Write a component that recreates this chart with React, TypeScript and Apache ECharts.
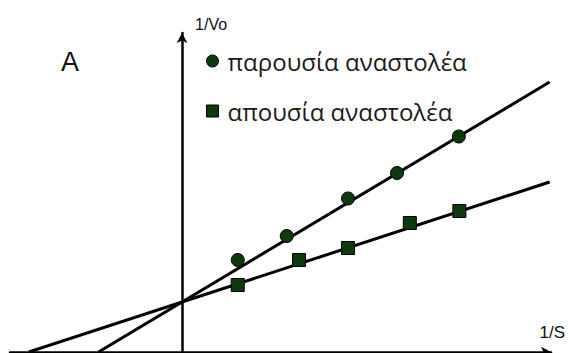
import React, { useEffect, useRef } from "react";
import * as echarts from "echarts";

// Lineweaver–Burk plot: 1/Vo against 1/S with and without inhibitor
const withInhibitorName = "παρουσία αναστολέα";
const withoutInhibitorName = "απουσία αναστολέα";

const withInhibitorPoints: [number, number][] = [
  [1.0, 1.84],
  [1.88, 2.32],
  [2.98, 3.07],
  [3.86, 3.58],
  [4.97, 4.31],
];

const withoutInhibitorPoints: [number, number][] = [
  [1.0, 1.34],
  [2.1, 1.84],
  [2.98, 2.08],
  [4.09, 2.58],
  [4.98, 2.82],
];

// fitted straight lines, from the 1/S intercept to the right edge
const withInhibitorFit: [number, number][] = [
  [-1.5, 0],
  [6.6, 5.4],
];
const withoutInhibitorFit: [number, number][] = [
  [-2.75, 0],
  [6.6, 3.4],
];

const markerColor = "#0c3a0e";

export default function App() {
  const ref = useRef<HTMLDivElement>(null);

  useEffect(() => {
    if (!ref.current) return;
    const chart = echarts.init(ref.current, undefined, { renderer: "svg" });
    const markerStyle = {
      color: markerColor,
      borderColor: "#000",
      borderWidth: 1,
      opacity: 1,
    };
    chart.setOption({
      animation: false,
      backgroundColor: "#ffffff",
      grid: { left: 10, right: 14, top: 33, bottom: 1 },
      xAxis: {
        type: "value",
        min: -173 / 56,
        max: 371 / 56,
        splitLine: { show: false },
        axisTick: { show: false },
        axisLabel: { show: false },
        axisLine: {
          onZero: true,
          symbol: ["none", "arrow"],
          symbolSize: [8, 10],
          lineStyle: { color: "#000", width: 2.5 },
        },
        name: "1/S",
        nameLocation: "end",
        nameGap: 14,
        nameTextStyle: {
          fontFamily: "Liberation Sans",
          fontSize: 17,
          color: "#111",
          align: "right",
          verticalAlign: "bottom",
          padding: [0, 0, 11, 0],
        },
      },
      yAxis: {
        type: "value",
        min: 0,
        max: 319 / 50,
        splitLine: { show: false },
        axisTick: { show: false },
        axisLabel: { show: false },
        axisLine: {
          onZero: true,
          symbol: ["none", "arrow"],
          symbolSize: [8, 10],
          lineStyle: { color: "#000", width: 2.5 },
        },
        name: "1/Vo",
        nameLocation: "end",
        nameGap: 1,
        nameTextStyle: {
          fontFamily: "Liberation Sans",
          fontSize: 16,
          color: "#111",
          align: "left",
          verticalAlign: "bottom",
          padding: [0, 0, 0, 13],
        },
      },
      legend: {
        orient: "vertical",
        left: 201,
        top: 44,
        itemWidth: 12,
        itemHeight: 12,
        itemGap: 26,
        data: [
          { name: withInhibitorName, icon: "circle", itemStyle: markerStyle },
          { name: withoutInhibitorName, icon: "rect", itemStyle: markerStyle },
        ],
        textStyle: {
          fontFamily: "Open Sans",
          fontSize: 24,
          color: "#1a1a1a",
          padding: [0, 0, 0, 4],
        },
      },
      graphic: [
        {
          type: "text",
          left: 61,
          top: 48,
          style: {
            text: "A",
            fontFamily: "Liberation Sans",
            fontSize: 27,
            fill: "#111",
          },
        },
      ],
      series: [
        {
          type: "line",
          data: withInhibitorFit,
          symbol: "none",
          lineStyle: { color: "#000", width: 3 },
          z: 2,
        },
        {
          type: "line",
          data: withoutInhibitorFit,
          symbol: "none",
          lineStyle: { color: "#000", width: 3 },
          z: 2,
        },
        {
          name: withInhibitorName,
          type: "scatter",
          data: withInhibitorPoints,
          symbol: "circle",
          symbolSize: 13,
          itemStyle: markerStyle,
          z: 3,
        },
        {
          name: withoutInhibitorName,
          type: "scatter",
          data: withoutInhibitorPoints,
          symbol: "rect",
          symbolSize: 13,
          itemStyle: markerStyle,
          z: 3,
        },
      ],
    });
    return () => chart.dispose();
  }, []);

  return (
    <div
      ref={ref}
      style={{ width: 568, height: 353, position: "fixed", left: 0, top: 0 }}
    />
  );
}
